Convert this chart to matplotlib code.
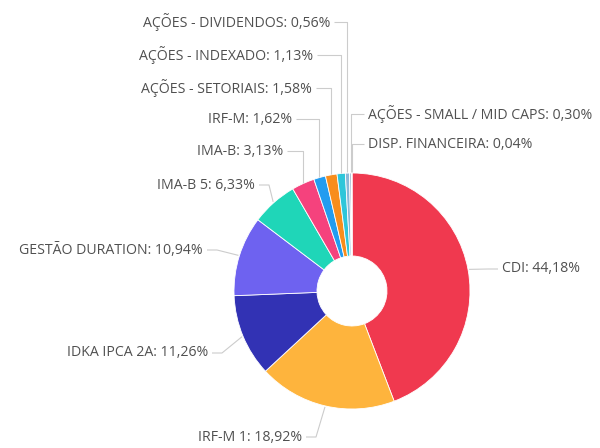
import numpy as np
import matplotlib
matplotlib.use("Agg")
import matplotlib.pyplot as plt

# Data
names = ["CDI", "IRF-M 1", "IDKA IPCA 2A", "GESTÃO DURATION", "IMA-B 5", "IMA-B",
         "IRF-M", "AÇÕES - SETORIAIS", "AÇÕES - INDEXADO", "AÇÕES - DIVIDENDOS",
         "AÇÕES - SMALL / MID CAPS", "DISP. FINANCEIRA"]
values = [44.18, 18.92, 11.26, 10.94, 6.33, 3.13, 1.62, 1.58, 1.13, 0.56, 0.30, 0.04]
colors = ["#f0394f", "#feb43d", "#3232b4", "#6e62f0", "#1fd6b8", "#f5427d",
          "#229cf0", "#f88d1c", "#2ec6da", "#8ab8d8", "#b0c4d8", "#c8d0d8"]

# label layout (pixel x of text edge, pixel y, side)
label_pos = [(502, 269, "left"), (302, 437, "right"), (208, 353, "right"),
             (203, 250, "right"), (255, 185, "right"), (283, 151, "right"),
             (292, 119, "right"), (312, 88, "right"), (313, 55, "right"),
             (330, 22, "right"), (368, 114, "left"), (368, 144, "left")]

W, H = 600, 448
cx, cy, R, r_in = 352, 448 - 291, 118, 35

fig = plt.figure(figsize=(6, 4.48), dpi=100)
ax = fig.add_axes([0, 0, 1, 1])

wedges, _ = ax.pie(values, colors=colors, startangle=90, counterclock=False,
                   center=(cx, cy), radius=R,
                   wedgeprops=dict(width=R - r_in, edgecolor="white", linewidth=0.6))
ax.set_xlim(0, W)
ax.set_ylim(0, H)
ax.set_aspect("equal")
ax.axis("off")

def pct(v):
    return ("%.2f" % v).replace(".", ",") + "%"

for w, name, v, (lx, ly, side) in zip(wedges, names, values, label_pos):
    ang = np.deg2rad((w.theta1 + w.theta2) / 2)
    ax0, ay0 = cx + (R + 1) * np.cos(ang), cy + (R + 1) * np.sin(ang)
    ly = H - ly
    if side == "right":
        ex = lx + 4
        elbow = ex + 10
    else:
        ex = lx - 4
        elbow = ex - 10
    if ly > cy + R:
        # top labels: across then straight down
        xs = [ex, ax0, ax0]
        ys = [ly, ly, ay0]
    else:
        xs = [ex, elbow, ax0]
        ys = [ly, ly, ay0]
    ax.plot(xs, ys, color="#cccccc", lw=0.8, solid_capstyle="butt")
    ax.text(lx, ly, name + ": " + pct(v), ha=side, va="center", fontsize=10.2,
            color="#505050", family="Open Sans")

fig.savefig("out.png", dpi=100, facecolor="white")
